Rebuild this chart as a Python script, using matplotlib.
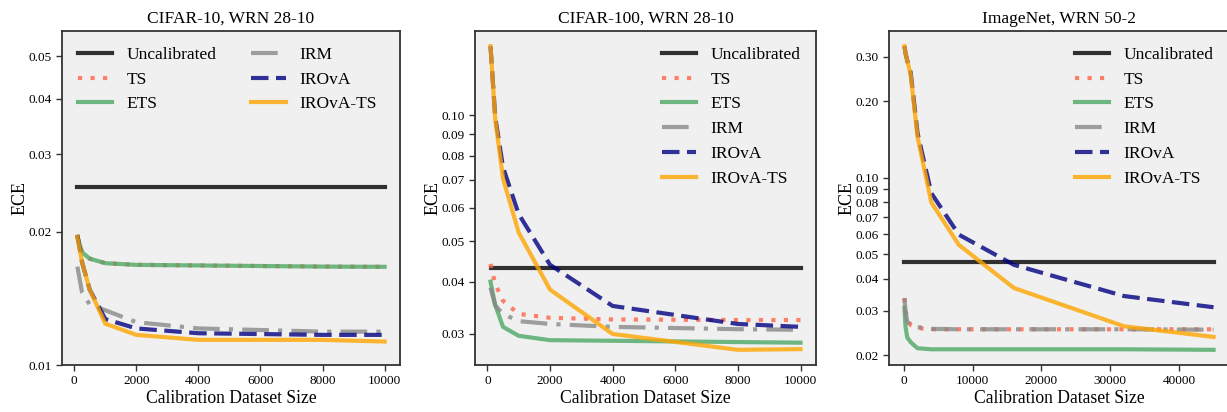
import matplotlib
matplotlib.use("Agg")
import matplotlib.pyplot as plt
from matplotlib.ticker import FixedLocator, NullLocator, FormatStrFormatter

plt.rcParams['font.family'] = ['Liberation Serif', 'DejaVu Serif']

methods = ['Uncalibrated', 'TS', 'ETS', 'IRM', 'IROvA', 'IROvA-TS']

# CIFAR-10, WRN 28-10
c10_sizes = [100, 250, 500, 1000, 2000, 4000, 8000, 10000]
c10_ece = {
    'Uncalibrated': [0.0253] * 8,
    'TS':       [0.0195, 0.0180, 0.0174, 0.0170, 0.01685, 0.0168, 0.0167, 0.01668],
    'ETS':      [0.0195, 0.0180, 0.0174, 0.0170, 0.01685, 0.0168, 0.0167, 0.01668],
    'IRM':      [0.0167, 0.0146, 0.0137, 0.0133, 0.0125, 0.0121, 0.0119, 0.0119],
    'IROvA':    [0.0197, 0.0171, 0.0148, 0.0127, 0.0121, 0.0118, 0.0117, 0.0117],
    'IROvA-TS': [0.0195, 0.0171, 0.0148, 0.0124, 0.0117, 0.0114, 0.0114, 0.0113],
}

# CIFAR-100, WRN 28-10
c100_sizes = [100, 250, 500, 1000, 2000, 4000, 8000, 10000]
c100_ece = {
    'Uncalibrated': [0.0432] * 8,
    'TS':       [0.0441, 0.0395, 0.0360, 0.0335, 0.0328, 0.0325, 0.0324, 0.0324],
    'ETS':      [0.0400, 0.0352, 0.0312, 0.0297, 0.0290, 0.0289, 0.0287, 0.0286],
    'IRM':      [0.0387, 0.0351, 0.0335, 0.0322, 0.0317, 0.0312, 0.0308, 0.0307],
    'IROvA':    [0.146, 0.099, 0.075, 0.058, 0.0439, 0.0350, 0.0317, 0.0312],
    'IROvA-TS': [0.146, 0.098, 0.0705, 0.0524, 0.0383, 0.0300, 0.0275, 0.0276],
}

# ImageNet, WRN 50-2
inet_sizes = [100, 250, 500, 1000, 2000, 4000, 8000, 16000, 32000, 45000]
inet_ece = {
    'Uncalibrated': [0.0466] * 10,
    'TS':       [0.0336, 0.0300, 0.0279, 0.0263, 0.0256, 0.0253, 0.0253, 0.0253, 0.0253, 0.0253],
    'ETS':      [0.0307, 0.0260, 0.0235, 0.0225, 0.0213, 0.0211, 0.0211, 0.0211, 0.0211, 0.0210],
    'IRM':      [0.0335, 0.0300, 0.0272, 0.0262, 0.0258, 0.0254, 0.0253, 0.0253, 0.0253, 0.0252],
    'IROvA':    [0.330, 0.310, 0.290, 0.260, 0.150, 0.087, 0.0597, 0.0454, 0.0342, 0.0309],
    'IROvA-TS': [0.330, 0.310, 0.290, 0.255, 0.145, 0.080, 0.0544, 0.0368, 0.0260, 0.0236],
}

styles = {
    'Uncalibrated': dict(color='black'),
    'TS':       dict(color='tomato', dashes=(1, 2)),
    'ETS':      dict(color='#4ea866'),
    'IRM':      dict(color='#888888', dashes=(6.4, 2.2, 1, 2.2)),
    'IROvA':    dict(color='navy', dashes=(4.2, 1.8)),
    'IROvA-TS': dict(color='orange'),
}

panels = [
    ('CIFAR-10, WRN 28-10', c10_sizes, c10_ece, [0.01, 0.02, 0.03, 0.04, 0.05], [0, 2000, 4000, 6000, 8000, 10000]),
    ('CIFAR-100, WRN 28-10', c100_sizes, c100_ece, [0.03, 0.04, 0.05, 0.06, 0.07, 0.08, 0.09, 0.10], [0, 2000, 4000, 6000, 8000, 10000]),
    ('ImageNet, WRN 50-2', inet_sizes, inet_ece,
     [0.02, 0.03, 0.04, 0.05, 0.06, 0.07, 0.08, 0.09, 0.10, 0.20, 0.30], [0, 10000, 20000, 30000, 40000]),
]

W, H = 1227, 412
fig = plt.figure(figsize=(W / 100, H / 100), dpi=100)
lefts = [62, 475, 889]
widths = [338, 341, 340]

for i, (title, sizes, ece, yticks, xticks) in enumerate(panels):
    ax = fig.add_axes([lefts[i] / W, 47 / H, widths[i] / W, 334 / H])
    ax.set_facecolor('#f0f0f0')
    for m in methods:
        ax.plot(sizes, ece[m], label=m, linewidth=3, alpha=0.8, **styles[m])
    ax.set_yscale('log')
    if i == 0:
        ax.set_ylim(0.01, 0.057)
    ax.yaxis.set_major_locator(FixedLocator(yticks))
    ax.yaxis.set_major_formatter(FormatStrFormatter('%.2f'))
    ax.yaxis.set_minor_locator(NullLocator())
    ax.set_xticks(xticks)
    ax.tick_params(labelsize=9.5, length=4, width=1, color='#333333', direction='out')
    for s in ax.spines.values():
        s.set_color('#333333')
        s.set_linewidth(1.3)
    ax.set_title(title, fontsize=12.5)
    ax.set_xlabel('Calibration Dataset Size', fontsize=12.7, labelpad=2)
    ax.set_ylabel('ECE', fontsize=13, labelpad=0)
    if i == 0:
        ax.legend(ncol=2, loc='upper left', frameon=False, fontsize=12.5,
                  handlelength=2.0, handletextpad=0.8, columnspacing=2.0, labelspacing=0.5)
    else:
        ax.legend(loc='upper right', frameon=False, fontsize=12.5,
                  handlelength=2.0, handletextpad=0.8, labelspacing=0.5)

fig.savefig('out.png', dpi=100)
